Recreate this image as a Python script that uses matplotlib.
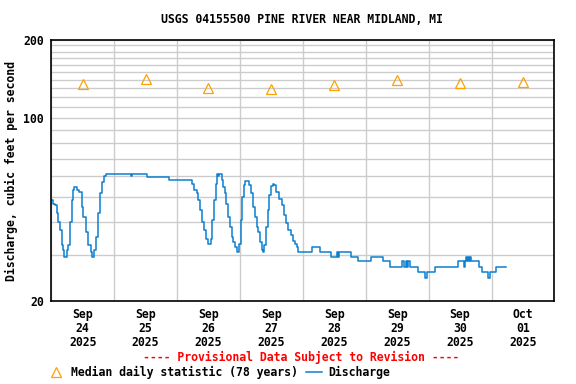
import numpy as np
import pandas as pd
import matplotlib
matplotlib.use("Agg")
import matplotlib.pyplot as plt
import matplotlib.dates as mdates
from matplotlib.lines import Line2D

# Discharge readings: hours after 2025-09-24 00:00 and cfs (step changes)
q_hours = [0.0, 0.7, 1.37, 2.0, 2.65, 3.28, 3.92, 4.3, 4.81, 6.0, 6.46, 7.10, 7.73,
           8.37, 8.75, 9.9, 10.66, 11.55, 12.18, 13.20, 14.09, 14.98, 15.62, 16.25,
           17.02, 17.91, 18.54, 19.31, 20.07, 20.71, 30.25, 30.75, 36.35, 44.75,
           53.52, 54.41, 55.43, 56.06, 56.70, 57.59, 58.23, 58.86, 59.63, 60.77,
           61.40, 62.04, 62.68, 63.31, 63.7, 64.0, 64.97, 65.60, 66.24, 66.87,
           67.51, 68.15, 68.78, 69.42, 70.05, 70.69, 71.33, 71.71, 72.22, 72.85,
           73.49, 74.12, 75.40, 76.16, 77.05, 77.69, 78.32, 78.96, 79.59, 80.23,
           80.61, 81.25, 81.88, 82.52, 83.15, 83.79, 84.43, 85.06, 85.95, 86.97,
           87.86, 88.75, 89.51, 90.40, 91.30, 92.31, 93.20, 93.84, 94.22, 99.55,
           102.7, 106.9, 109.1, 109.4, 109.9, 114.2, 117.1, 122.1, 126.6, 129.2,
           134.0, 134.6, 135.3, 135.6, 136.2, 136.9, 140.0, 142.5, 143.3, 146.6,
           155.3, 157.6, 157.9, 158.4, 158.7, 159.1, 159.4, 159.8, 160.1, 163.2,
           164.4, 166.7, 167.5, 169.9, 173.7]
q_cfs = [48.5, 47.1, 46.4, 43.2, 40.1, 37.2, 32.6, 31.2, 29.4, 31.2, 32.6, 40.1, 48.5,
         53.0, 54.3, 53.0, 52.2, 45.8, 41.9, 36.7, 32.6, 30.8, 29.3, 31.2,
         35.1, 43.2, 51.5, 57.1, 60.0, 60.9, 60.0, 60.9, 59.6, 57.8,
         56.2, 53.0, 51.5, 48.5, 44.4, 40.1, 37.2, 34.6, 33.1, 34.6,
         40.7, 48.5, 56.2, 60.9, 60.0, 60.9, 57.9, 54.6, 51.5, 47.1,
         41.9, 38.4, 35.1, 33.6, 32.2, 30.8, 30.6, 33.1, 40.7, 50.0,
         55.4, 57.6, 55.4, 51.5, 45.8, 41.9, 38.4, 36.7, 33.6, 31.2,
         30.6, 32.6, 38.4, 44.4, 50.7, 54.9, 56.2, 55.4, 52.2, 49.2,
         46.4, 42.5, 39.5, 37.2, 35.6, 33.9, 33.1, 32.0, 30.6, 32.0,
         30.6, 29.3, 30.6, 29.3, 30.6, 29.3, 28.3, 29.3, 28.3, 27.0,
         28.3, 27.0, 28.3, 27.0, 28.3, 27.0, 25.7, 24.5, 25.7, 27.0,
         28.3, 27.0, 28.3, 29.3, 28.3, 29.3, 28.3, 29.3, 28.3, 27.0,
         25.7, 24.5, 25.7, 27.0, 27.0]

# Median daily statistic (78 years), one per day at noon
median_days = ["2025-09-24", "2025-09-25", "2025-09-26", "2025-09-27",
               "2025-09-28", "2025-09-29", "2025-09-30", "2025-10-01"]
median_cfs = [135, 141, 131, 129, 134, 140, 136, 137]

y_major = [20, 100, 200]
y_minor = [30, 40, 50, 60, 70, 80, 90, 110, 120, 130, 140, 150, 160, 170, 180, 190]

start = pd.Timestamp("2025-09-24")
q_time = start + pd.to_timedelta(q_hours, unit="h")
med_time = pd.to_datetime(median_days) + pd.Timedelta(hours=12)

plt.rcParams["font.family"] = "DejaVu Sans Mono"
plt.rcParams["font.weight"] = "bold"
fs = 8.3
blue = "#0B80CF"
orange = "#FFA000"

fig = plt.figure(figsize=(5.76, 3.84), dpi=100)
ax = fig.add_axes([0.089, 0.217, 0.8735, 0.68])

ax.plot(q_time, q_cfs, drawstyle="steps-post", color=blue, lw=1.1)
ax.plot(med_time, median_cfs, linestyle="none", marker="^", markersize=7,
        markerfacecolor="none", markeredgecolor=orange, markeredgewidth=0.9)

ax.set_yscale("log")
ax.set_ylim(20, 200)
ax.set_yticks(y_major)
ax.set_yticklabels([str(v) for v in y_major])
ax.set_yticks(y_minor, minor=True)
ax.yaxis.set_minor_formatter(matplotlib.ticker.NullFormatter())

ax.set_xlim(start, start + pd.Timedelta(days=8))
ax.xaxis.set_major_locator(mdates.DayLocator())
ax.xaxis.set_major_formatter(matplotlib.ticker.NullFormatter())
ax.xaxis.set_minor_locator(mdates.HourLocator(byhour=[12]))
ax.xaxis.set_minor_formatter(mdates.DateFormatter("%b\n%d\n%Y"))

ax.grid(True, which="major", color="#CCCCCC", lw=1.0)
ax.grid(True, which="minor", axis="y", color="#CCCCCC", lw=1.0)
ax.set_axisbelow(True)
ax.tick_params(which="both", length=0)
ax.tick_params(axis="y", labelsize=fs, pad=5.5)
ax.tick_params(axis="x", which="minor", labelsize=fs, pad=5)
for t in ax.get_xticklabels(minor=True):
    t.set_linespacing(1.12)
    t.set_fontweight("bold")
for t in ax.get_yticklabels():
    t.set_fontweight("bold")
for s in ax.spines.values():
    s.set_linewidth(1.2)

fig.text(0.524, 0.95, "USGS 04155500 PINE RIVER NEAR MIDLAND, MI",
         ha="center", va="center", fontsize=fs, fontweight="bold")
fig.text(0.02, 0.555, "Discharge, cubic feet per second", rotation=90,
         ha="center", va="center", fontsize=fs, fontweight="bold")
fig.text(0.523, 0.068, "---- Provisional Data Subject to Revision ----",
         ha="center", va="center", fontsize=fs, fontweight="bold", color="red")

handles = [Line2D([], [], linestyle="none", marker="^", markersize=7,
                  markerfacecolor="none", markeredgecolor=orange, markeredgewidth=0.9),
           Line2D([], [], color=blue, lw=1.1)]
fig.legend(handles, ["Median daily statistic (78 years)", "Discharge"],
           loc="center left", bbox_to_anchor=(0.084, 0.031), ncol=2, frameon=False,
           prop={"size": fs, "weight": "bold"}, handlelength=1.4,
           handletextpad=0.55, columnspacing=0.7, borderaxespad=0, borderpad=0)

fig.savefig("out.png", dpi=100)
